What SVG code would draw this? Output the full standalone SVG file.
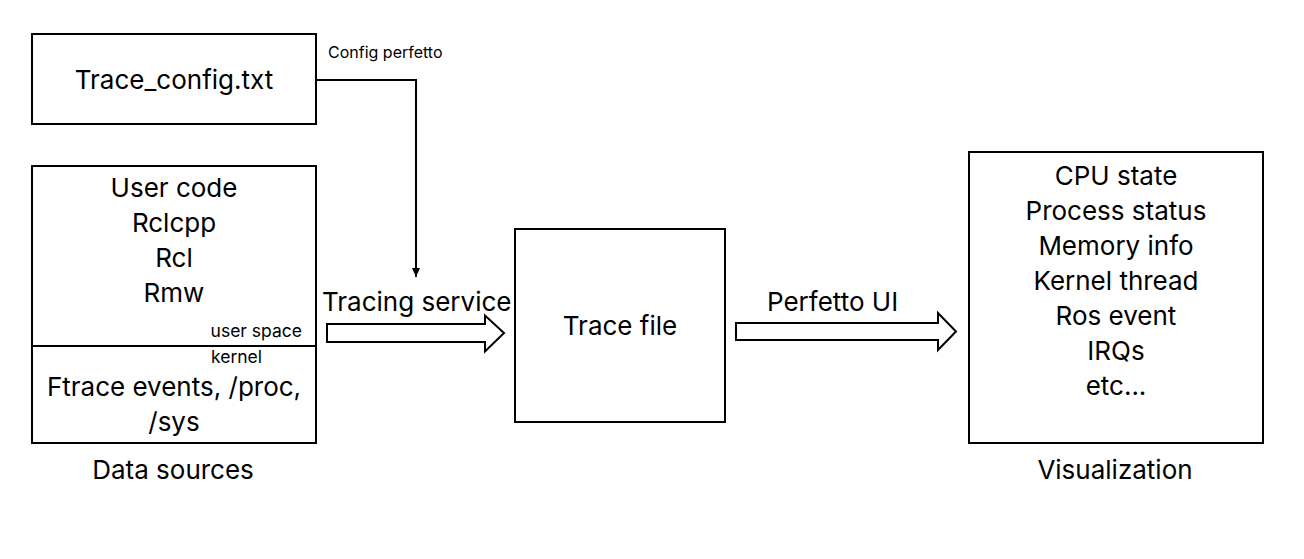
<svg xmlns="http://www.w3.org/2000/svg" width="1304" height="559" viewBox="0 0 1304 559">
<style>
.box{fill:#fff;stroke:#000;stroke-width:2}
.t{font-family:Inter,"Liberation Sans",sans-serif;font-size:26px;fill:#000}
.s{font-family:Inter,"Liberation Sans",sans-serif;font-size:17.5px;fill:#000}
.c{text-anchor:middle}
.line{fill:none;stroke:#000;stroke-width:2}
.blk{fill:#fff;stroke:#000;stroke-width:2;stroke-linejoin:miter}
</style>
<defs>
<marker id="ah" markerWidth="10" markerHeight="10" refX="9" refY="5" orient="auto" markerUnits="userSpaceOnUse">
<path d="M0,1 L9,5 L0,9 Z" fill="#000"/>
</marker>
</defs>
<rect width="1304" height="559" fill="#fff"/>
<g id="trace-config">
<rect class="box" x="32" y="34" width="284" height="90"/>
<text class="t c" x="174" y="89">Trace_config.txt</text>
</g>
<g id="data-sources">
<rect class="box" x="32" y="166" width="284" height="277"/>
<line class="line" x1="32" y1="346" x2="316" y2="346"/>
<text class="t c" x="174" y="197">User code</text>
<text class="t c" x="174" y="232">Rclcpp</text>
<text class="t c" x="174" y="267">Rcl</text>
<text class="t c" x="174" y="302">Rmw</text>
<text class="s" x="302" y="337" text-anchor="end">user space</text>
<text class="s" x="211" y="363">kernel</text>
<text class="t c" x="174" y="396">Ftrace events, /proc,</text>
<text class="t c" x="174" y="431">/sys</text>
<text class="t c" x="173" y="479">Data sources</text>
</g>
<g id="trace-file">
<rect class="box" x="515" y="229" width="210" height="193"/>
<text class="t c" x="620" y="335">Trace file</text>
</g>
<g id="visualization">
<rect class="box" x="969" y="152" width="294" height="291"/>
<text class="t c" x="1116" y="185">CPU state</text>
<text class="t c" x="1116" y="220">Process status</text>
<text class="t c" x="1116" y="255">Memory info</text>
<text class="t c" x="1116" y="290">Kernel thread</text>
<text class="t c" x="1116" y="325">Ros event</text>
<text class="t c" x="1116" y="360">IRQs</text>
<text class="t c" x="1116" y="395">etc...</text>
<text class="t c" x="1115" y="479">Visualization</text>
</g>
<g id="connectors">
<path class="line" d="M316,80 H416 V277" marker-end="url(#ah)"/>
<text class="s" x="328" y="58" style="font-size:16px">Config perfetto</text>
<polygon class="blk" points="327,324 485,324 485,315.5 504,333 485,351.5 485,342 327,342"/>
<text class="t" x="322" y="311">Tracing service</text>
<polygon class="blk" points="736,323 938,323 938,313 956,331.5 938,350 938,340 736,340"/>
<text class="t" x="767" y="311">Perfetto UI</text>
</g>
</svg>
